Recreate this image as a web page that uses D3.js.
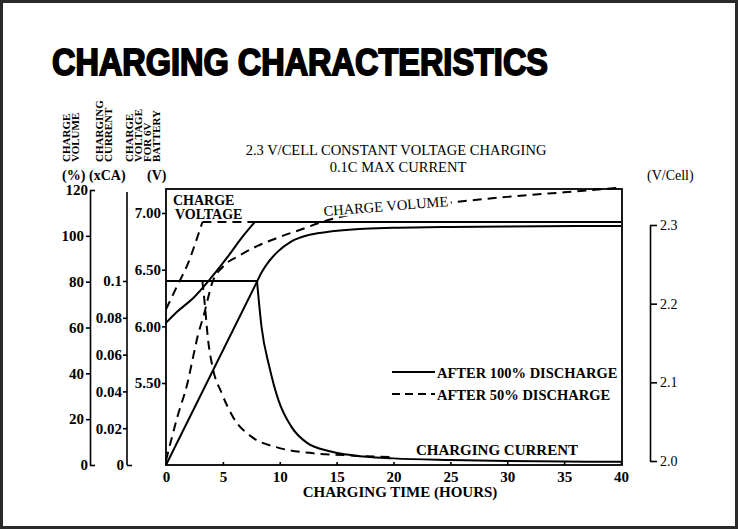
<!DOCTYPE html>
<html><head><meta charset="utf-8">
<script src="https://cdn.jsdelivr.net/npm/d3@7/dist/d3.min.js"></script>
<style>
body{margin:0;background:#fff;}
svg text{font-family:"Liberation Serif","Times New Roman",serif;fill:#000;}
</style></head>
<body><svg id="c" width="738" height="529"></svg>
<script>
// ---- data ----
const hourTicks = [0,5,10,15,20,25,30,35,40];
const pctTicks = [0,20,40,60,80,100,120];
const caTicks = [0,0.02,0.04,0.06,0.08,0.1];
const caTickLabels = ["0","0.02","0.04","0.06","0.08","0.1"];
const voltTicks = [5.5,6.0,6.5,7.0];
const cellTicks = [2.0,2.1,2.2,2.3];

// charge voltage (V, 6V battery)
const voltRise100 = [[0,6.03],[1,6.13],[2.4,6.25],[3.9,6.42],[5.4,6.61],[6.8,6.8],[7.8,6.92]];
const voltFlat100 = [[7.8,6.92],[40,6.92]];
const voltRise50 = [[0,6.15],[1,6.36],[2,6.57],[2.6,6.74],[3.2,6.92]];
const voltFlat50 = [[3.2,6.92],[8,6.92]];

// charging current (xCA)
const curFlat100 = [[0,0.1],[8,0.1]];
const curTail100 = [[8,0.1],[8.4,0.075],[9.1,0.053],[9.9,0.035],[11,0.021],[12.4,0.012],[14.4,0.0075],[16.5,0.0052],[20,0.0036],[25,0.0027],[30,0.0022],[35,0.0019],[40,0.0017]];
const curTail50 = [[3.2,0.1],[3.4,0.088],[3.7,0.068],[4.1,0.053],[4.9,0.039],[5.9,0.026],[7.6,0.015],[9.7,0.0097],[12.6,0.0066],[15.6,0.0054],[20,0.0042]];

// charge volume (%)
const volRise100 = [[0,0],[8,80]];
const volTail100 = [[8,80],[8.4,84],[9,88.5],[9.8,93],[11,97.5],[12.5,100.3],[14,101.6],[17,103],[20,103.5],[25,103.9],[30,104.1],[40,104.3]];
const vol50 = [[0,2],[1,21],[1.9,36],[2.4,47.5],[2.8,56.5],[3.3,65],[4.1,80],[5,86.5],[6.5,91.5],[8,95.5],[10,99.5],[12,103],[14,106.5],[16,109],[20,111.5],[25,114.5],[30,117],[35,119],[40,121]];

// ---- drawing ----
const svg = d3.select("#c");
svg.append("rect").attr("x",1.5).attr("y",1.5).attr("width",735).attr("height",526)
  .attr("fill","#fff").attr("stroke","#2a2a2a").attr("stroke-width",3);

const L=166, R=622, T=189, B=465;
const x = d3.scaleLinear().domain([0,40]).range([L,621]);
const yPct = d3.scaleLinear().domain([0,120]).range([B,190]);
const yCA = d3.scaleLinear().domain([0,0.1]).range([B,281]);
const yV = d3.scaleLinear().domain([5.5,7.0]).range([383,213]);
const yCell = d3.scaleLinear().domain([2.0,2.3]).range([461,225]);

// Title
svg.append("text").attr("x",52).attr("y",75)
  .attr("textLength",496).attr("lengthAdjust","spacingAndGlyphs")
  .style("font-family","'Liberation Sans',Arial,sans-serif").style("font-weight","bold")
  .style("font-size","36px").style("stroke","#000").style("stroke-width","1.8px")
  .text("CHARGING CHARACTERISTICS");

svg.append("text").attr("x",396).attr("y",155).attr("text-anchor","middle")
  .style("font-size","14.5px").text("2.3 V/CELL CONSTANT VOLTAGE CHARGING");
svg.append("text").attr("x",398).attr("y",172).attr("text-anchor","middle")
  .style("font-size","14.5px").text("0.1C MAX CURRENT");

// rotated header labels
const hdr = [["CHARGE",70],["VOLUME",79],["CHARGING",103],["CURRENT",112],
  ["CHARGE",133],["VOLTAGE",142],["FOR 6V",151],["BATTERY",160]];
hdr.forEach(([t,cx])=>{
  svg.append("text").attr("transform",`translate(${cx},162) rotate(-90)`)
    .style("font-size","11px").style("font-weight","bold").text(t);
});
[["(%)",62],["(xCA)",89],["(V)",147]].forEach(([t,xx])=>{
  svg.append("text").attr("x",xx).attr("y",180).style("font-size","14px").style("font-weight","bold").text(t);
});
svg.append("text").attr("x",647).attr("y",180).style("font-size","14px").text("(V/Cell)");

function styleAxis(g, size){
  g.selectAll("text").style("font-size",size).style("font-weight","bold")
   .style("font-family","'Liberation Serif','Times New Roman',serif");
  g.selectAll("line,path").attr("stroke","#000").attr("stroke-width",1.6);
}

// % axis
const gP = svg.append("g").attr("transform","translate(90,0)")
  .call(d3.axisLeft(yPct).tickValues(pctTicks).tickSize(4).tickSizeOuter(0).tickPadding(2));
styleAxis(gP,"15px");
gP.selectAll(".tick").filter(d=>d===0||d===120).select("line").attr("x2",5);
gP.selectAll(".tick").filter(d=>d===0||d===120).select("text").attr("x",-2);

// xCA axis
const gC = svg.append("g").attr("transform","translate(127,0)")
  .call(d3.axisLeft(yCA).tickValues(caTicks).tickFormat((d,i)=>caTickLabels[i]).tickSize(4).tickSizeOuter(0).tickPadding(1));
styleAxis(gC,"15px");
gC.select(".domain").remove();
gC.append("line").attr("x1",0).attr("x2",0).attr("y1",192).attr("y2",B).attr("stroke","#000").attr("stroke-width",1.6);
gC.selectAll(".tick").filter(d=>d===0).select("line").attr("x2",5);
gC.selectAll(".tick").filter(d=>d===0).select("text").attr("x",-3);

// voltage axis on box left
const gV = svg.append("g").attr("transform",`translate(${L},0)`)
  .call(d3.axisLeft(yV).tickValues(voltTicks).tickFormat(d3.format(".2f")).tickSize(4).tickSizeOuter(0).tickPadding(1));
styleAxis(gV,"15px");
gV.select(".domain").remove();

// right V/Cell axis
const gR = svg.append("g").attr("transform","translate(650,0)")
  .call(d3.axisRight(yCell).tickValues(cellTicks).tickFormat(d3.format(".1f")).tickSize(7).tickSizeOuter(0).tickPadding(3));
styleAxis(gR,"14px");
gR.selectAll("text").style("font-weight","normal");

// plot box
svg.append("rect").attr("x",L).attr("y",T).attr("width",R-L).attr("height",B-T)
  .attr("fill","none").attr("stroke","#000").attr("stroke-width",1.8);

// x axis
const gX = svg.append("g").attr("transform",`translate(0,${B})`)
  .call(d3.axisBottom(x).tickValues(hourTicks).tickSize(-3).tickSizeOuter(0).tickPadding(6));
styleAxis(gX,"15px");
gX.select(".domain").remove();
svg.append("text").attr("x",400).attr("y",497).attr("text-anchor","middle")
  .style("font-size","15px").style("font-weight","bold").text("CHARGING TIME (HOURS)");

// curves
const lineV = d3.line().x(d=>x(d[0])).y(d=>yV(d[1])).curve(d3.curveMonotoneX);
const lineC = d3.line().x(d=>x(d[0])).y(d=>yCA(d[1])).curve(d3.curveMonotoneX);
const lineP = d3.line().x(d=>x(d[0])).y(d=>yPct(d[1])).curve(d3.curveMonotoneX);
function draw(gen, data, dashed){
  svg.append("path").attr("d",gen(data)).attr("fill","none").attr("stroke","#000")
    .attr("stroke-width",2).attr("stroke-dasharray",dashed?"9,6":null);
}
draw(lineV,voltRise100,false); draw(lineV,voltFlat100,false);
draw(lineV,voltRise50,true); draw(lineV,voltFlat50,true);
draw(lineC,curFlat100,false); draw(lineC,curTail100,false);
draw(lineC,curTail50,true);
draw(lineP,volRise100,false); draw(lineP,volTail100,false);
draw(lineP,vol50,true);

// in-plot labels
svg.append("rect").attr("x",321).attr("y",196).attr("width",130).attr("height",17)
  .attr("fill","#fff").attr("transform","rotate(-4.5,386,208)");
svg.append("text").attr("x",386).attr("y",211).attr("text-anchor","middle")
  .attr("transform","rotate(-4.5,386,208)")
  .style("font-size","14.5px").text("CHARGE VOLUME");
svg.append("text").attr("x",173).attr("y",205).style("font-size","14px").style("font-weight","bold").text("CHARGE");
svg.append("text").attr("x",175).attr("y",219).style("font-size","14px").style("font-weight","bold").text("VOLTAGE");
svg.append("text").attr("x",497).attr("y",455).attr("text-anchor","middle")
  .style("font-size","15px").style("font-weight","bold").text("CHARGING CURRENT");

// legend
svg.append("line").attr("x1",392).attr("x2",435).attr("y1",372).attr("y2",372).attr("stroke","#000").attr("stroke-width",2);
svg.append("line").attr("x1",392).attr("x2",435).attr("y1",394).attr("y2",394).attr("stroke","#000").attr("stroke-width",2).attr("stroke-dasharray","8,5");
svg.append("text").attr("x",437).attr("y",378).style("font-size","14.5px").style("font-weight","bold").text("AFTER 100% DISCHARGE");
svg.append("text").attr("x",437).attr("y",400).style("font-size","14.5px").style("font-weight","bold").text("AFTER 50% DISCHARGE");
</script></body></html>
